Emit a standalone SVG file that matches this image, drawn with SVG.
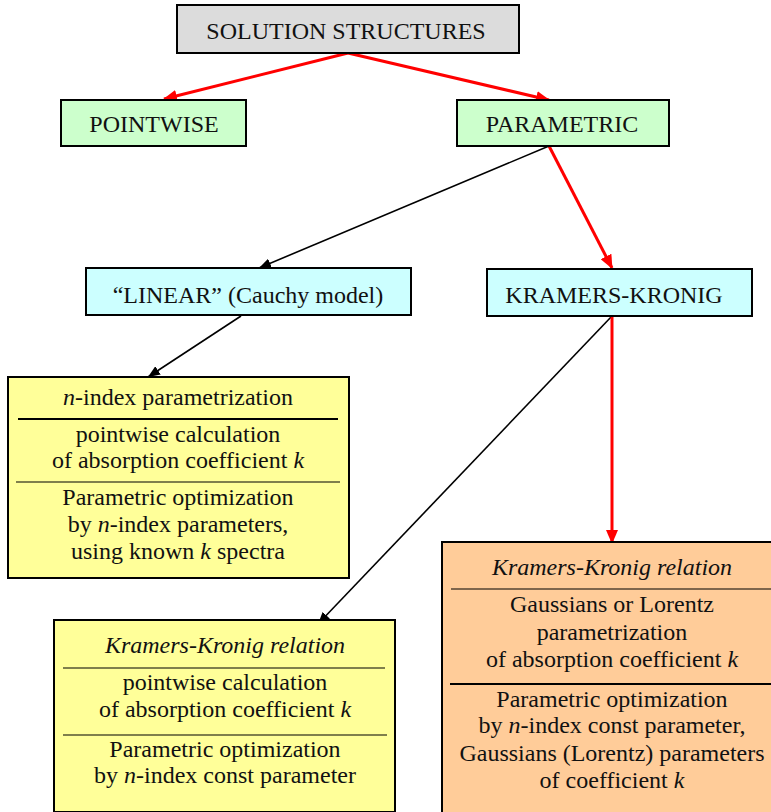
<svg xmlns="http://www.w3.org/2000/svg" width="771" height="812" viewBox="0 0 771 812">
<defs>
<style>
.box{stroke:#000;stroke-width:2}
text{font-family:'Liberation Serif','Times New Roman',Times,'DejaVu Serif',serif;font-size:24px;fill:#111;text-anchor:middle}
.i{font-style:italic}
.red{stroke:#f00;stroke-width:3;fill:none}
.blk{stroke:#000;stroke-width:1.6;fill:none}
.div{stroke:#000;stroke-width:1.2}
.divb{stroke:#000;stroke-width:2}
</style>
<marker id="ar" markerUnits="userSpaceOnUse" markerWidth="14" markerHeight="12" refX="13" refY="6" orient="auto"><path d="M0,0 L14,6 L0,12 z" fill="#f00"/></marker>
<marker id="ab" markerUnits="userSpaceOnUse" markerWidth="12" markerHeight="10" refX="12" refY="5" orient="auto"><path d="M0,0 L12,5 L0,10 z" fill="#000"/></marker>
</defs>
<rect width="771" height="812" fill="#fff"/>
<g id="connectors">
<line class="red" x1="348" y1="53" x2="164" y2="99" marker-end="url(#ar)"/>
<line class="red" x1="348" y1="53" x2="549" y2="100" marker-end="url(#ar)"/>
<line class="red" x1="549" y1="146" x2="612" y2="268" marker-end="url(#ar)"/>
<line class="blk" x1="549" y1="146" x2="259" y2="268" marker-end="url(#ab)"/>
<line class="blk" x1="241" y1="316" x2="148" y2="377" marker-end="url(#ab)"/>
<line class="blk" x1="612" y1="316" x2="318" y2="624" marker-end="url(#ab)"/>
<line class="red" x1="612" y1="316" x2="612" y2="543" marker-end="url(#ar)"/>
</g>
<g font-family="'Liberation Serif', 'Times New Roman', serif">
<g id="solution">
<rect class="box" x="177" y="5" width="342" height="48" fill="#dcdcdc"/>
<text x="346" y="39">SOLUTION STRUCTURES</text>
</g>
<g id="pointwise">
<rect class="box" x="61" y="100" width="185" height="46" fill="#ccffcc"/>
<text x="154" y="132">POINTWISE</text>
</g>
<g id="parametric">
<rect class="box" x="457" y="100" width="212" height="46" fill="#ccffcc"/>
<text x="562" y="132">PARAMETRIC</text>
</g>
<g id="linear">
<rect class="box" x="86" y="268" width="325" height="47" fill="#ccffff"/>
<text x="248" y="303">“LINEAR” (Cauchy model)</text>
</g>
<g id="kk">
<rect class="box" x="487" y="269" width="265" height="47" fill="#ccffff"/>
<text x="614" y="303">KRAMERS-KRONIG</text>
</g>
<g id="linear-detail">
<rect class="box" x="8" y="377" width="341" height="201" fill="#ffff99"/>
<line class="divb" x1="18" y1="419" x2="338" y2="419"/>
<line class="div" x1="16" y1="482" x2="340" y2="482"/>
<text x="178" y="405"><tspan class="i">n</tspan>-index parametrization</text>
<text x="178" y="442">pointwise calculation</text>
<text x="178" y="468">of absorption coefficient <tspan class="i">k</tspan></text>
<text x="178" y="505">Parametric optimization</text>
<text x="178" y="532">by <tspan class="i">n</tspan>-index parameters,</text>
<text x="178" y="559">using known <tspan class="i">k</tspan> spectra</text>
</g>
<g id="kk-pointwise">
<rect class="box" x="54" y="620" width="341" height="192" fill="#ffff99"/>
<line class="div" x1="63" y1="668" x2="385" y2="668"/>
<line class="div" x1="63" y1="735" x2="387" y2="735"/>
<text class="i" x="225" y="653">Kramers-Kronig relation</text>
<text x="225" y="690">pointwise calculation</text>
<text x="225" y="717">of absorption coefficient <tspan class="i">k</tspan></text>
<text x="225" y="757">Parametric optimization</text>
<text x="225" y="783">by <tspan class="i">n</tspan>-index const parameter</text>
</g>
<g id="kk-parametric">
<rect class="box" x="442" y="542" width="340" height="280" fill="#ffcc99"/>
<line class="div" x1="451" y1="589" x2="771" y2="589"/>
<line class="divb" x1="450" y1="684" x2="771" y2="684"/>
<text class="i" x="612" y="575">Kramers-Kronig relation</text>
<text x="612" y="612">Gaussians or Lorentz</text>
<text x="612" y="640">parametrization</text>
<text x="612" y="667">of absorption coefficient <tspan class="i">k</tspan></text>
<text x="612" y="707">Parametric optimization</text>
<text x="612" y="733">by <tspan class="i">n</tspan>-index const parameter,</text>
<text x="612" y="761">Gaussians (Lorentz) parameters</text>
<text x="612" y="788">of coefficient <tspan class="i">k</tspan></text>
</g>
</g>
</svg>
